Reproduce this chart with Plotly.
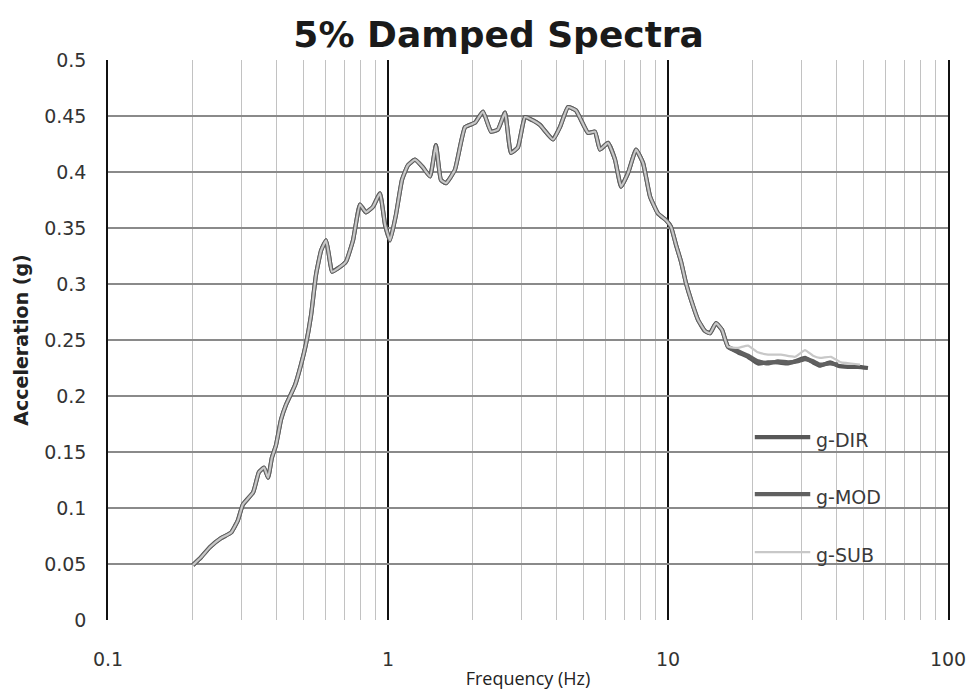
import plotly.graph_objects as go

# Shared part of the spectra (all three records overlap up to ~16 Hz)
common_freq = [0.201, 0.215, 0.231, 0.253, 0.275, 0.291, 0.303, 0.330, 0.346, 0.361,
               0.373, 0.385, 0.398, 0.415, 0.432, 0.466, 0.489, 0.509, 0.531, 0.553,
               0.577, 0.601, 0.615, 0.631, 0.663, 0.708, 0.750, 0.794, 0.834, 0.884,
               0.936, 0.976, 1.017, 1.068, 1.122, 1.178, 1.248, 1.334, 1.413, 1.483,
               1.545, 1.611, 1.734, 1.884, 2.046, 2.184, 2.333, 2.471, 2.618, 2.749,
               2.911, 3.084, 3.296, 3.490, 3.882, 4.111, 4.395, 4.690, 5.179, 5.485,
               5.715, 6.105, 6.468, 6.797, 7.197, 7.690, 8.147, 8.630, 9.209, 9.838,
               10.25, 10.68, 11.13, 11.59, 12.08, 12.80, 13.56, 14.13, 14.84, 15.59, 16.37]
common_acc = [0.049, 0.056, 0.065, 0.073, 0.078, 0.089, 0.103, 0.114, 0.132, 0.136,
              0.127, 0.145, 0.156, 0.179, 0.192, 0.210, 0.228, 0.246, 0.272, 0.308,
              0.330, 0.339, 0.326, 0.311, 0.314, 0.320, 0.339, 0.371, 0.364, 0.369,
              0.381, 0.353, 0.339, 0.362, 0.393, 0.406, 0.411, 0.404, 0.396, 0.424,
              0.393, 0.390, 0.402, 0.440, 0.444, 0.454, 0.436, 0.438, 0.453, 0.417,
              0.422, 0.449, 0.446, 0.442, 0.429, 0.440, 0.458, 0.455, 0.435, 0.436,
              0.420, 0.426, 0.411, 0.387, 0.399, 0.420, 0.408, 0.378, 0.363, 0.357,
              0.351, 0.335, 0.320, 0.301, 0.286, 0.268, 0.258, 0.256, 0.265, 0.259, 0.244]

# High-frequency tails where the records separate
dir_freq = [17.78, 19.31, 20.96, 22.76, 24.71, 26.83, 29.13, 30.85, 32.96, 34.91,
            37.90, 40.47, 43.94, 47.71, 51.79]
dir_acc = [0.239, 0.235, 0.229, 0.230, 0.230, 0.229, 0.232, 0.234, 0.230, 0.227,
           0.230, 0.227, 0.226, 0.226, 0.225]

mod_freq = [17.78, 19.31, 20.96, 22.76, 24.71, 26.83, 29.13, 30.85, 32.96, 34.91,
            37.90, 40.47]
mod_acc = [0.240, 0.236, 0.231, 0.229, 0.231, 0.230, 0.231, 0.233, 0.231, 0.228,
           0.229, 0.228]

sub_freq = [17.78, 19.31, 20.96, 22.76, 25.33, 28.42, 30.85, 32.96, 34.91, 38.20,
            41.50, 45.06, 48.50]
sub_acc = [0.243, 0.245, 0.239, 0.237, 0.237, 0.235, 0.241, 0.236, 0.234, 0.235,
           0.230, 0.229, 0.228]

series_names = ["g-DIR", "g-MOD", "g-SUB"]
x_tick_vals = [0.1, 1, 10, 100]
x_tick_text = ["0.1", "1", "10", "100"]
y_tick_vals = [0, 0.05, 0.1, 0.15, 0.2, 0.25, 0.3, 0.35, 0.4, 0.45, 0.5]
y_tick_text = ["0", "0.05", "0.1", "0.15", "0.2", "0.25", "0.3", "0.35", "0.4", "0.45", "0.5"]

series_colors = ["#585858", "#606060", "#c8c8c8"]
series_widths = [4.2, 4.2, 2.2]

series = [
    (common_freq + dir_freq, common_acc + dir_acc),
    (common_freq + mod_freq, common_acc + mod_acc),
    (common_freq + sub_freq, common_acc + sub_acc),
]

fig = go.Figure()
for (xs, ys), name, color, width in zip(series, series_names, series_colors, series_widths):
    fig.add_trace(go.Scatter(
        x=xs, y=ys, mode="lines", name=name, showlegend=False,
        line=dict(color=color, width=width, shape="spline", smoothing=0.4),
    ))

sans = "Open Sans, Noto Sans, sans-serif"
wide = "DejaVu Sans, sans-serif"

# Legend drawn inside the plot area (paper coordinates)
legend_y = [0.3214, 0.2196, 0.1161]
for name, color, width, ly in zip(series_names, series_colors, series_widths, legend_y):
    fig.add_shape(type="line", xref="paper", yref="paper",
                  x0=0.770, x1=0.836, y0=ly + 0.005, y1=ly + 0.005,
                  line=dict(color=color, width=width))
    fig.add_annotation(xref="paper", yref="paper", x=0.840, y=ly, text=name,
                       showarrow=False, xanchor="left", yanchor="middle",
                       font=dict(family=wide, size=19, color="#3a3a3a"))

fig.update_layout(
    width=972, height=694,
    margin=dict(l=108, r=24, t=60, b=74),
    paper_bgcolor="white", plot_bgcolor="white",
    showlegend=False,
    title=dict(text="<b>5% Damped Spectra</b>", x=0.513, xref="container", xanchor="center",
               y=0.95, yref="container", yanchor="middle",
               font=dict(family=wide, size=36, color="#1a1a1a")),
    font=dict(family=sans, size=15, color="#333333"),
)

fig.update_xaxes(
    type="log", range=[-1, 2],
    tickvals=x_tick_vals, ticktext=x_tick_text,
    showgrid=True, gridcolor="#111111", gridwidth=1.5,
    minor=dict(dtick="D1", showgrid=True, gridcolor="#c2c2c2", gridwidth=1),
    ticks="", ticklabelstandoff=26, automargin=False,
    zeroline=False, showline=False,
    title=dict(text="Frequency (Hz)", standoff=3,
               font=dict(family=sans, size=18, color="#222222")),
    tickfont=dict(family=wide, size=19, color="#333333"),
)

fig.update_yaxes(
    range=[0, 0.5],
    tickvals=y_tick_vals, ticktext=y_tick_text,
    showgrid=True, gridcolor="#8a8a8a", gridwidth=1.5,
    ticks="", ticklabelstandoff=16, automargin=False,
    zeroline=False, showline=True, linecolor="#111111", linewidth=1.5, mirror=True,
    title=dict(text="<b>Acceleration (g)</b>", standoff=10,
               font=dict(family=wide, size=19, color="#222222")),
    tickfont=dict(family=wide, size=19, color="#333333"),
)

fig.write_html("out.html")
